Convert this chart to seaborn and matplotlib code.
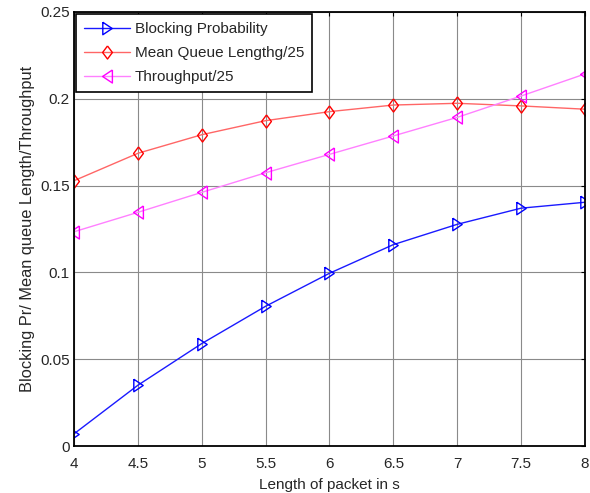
import matplotlib
matplotlib.use("Agg")
import matplotlib.pyplot as plt
import pandas as pd
import seaborn as sns

# packet length (s)
packet_len = [4, 4.5, 5, 5.5, 6, 6.5, 7, 7.5, 8]
# values
blocking = [0.007, 0.035, 0.059, 0.0805, 0.0995, 0.116, 0.1277, 0.137, 0.1404]
mean_queue = [0.1528, 0.1686, 0.1793, 0.1874, 0.1926, 0.1964, 0.1974, 0.1959, 0.194]
throughput = [0.1234, 0.1346, 0.1461, 0.1574, 0.168, 0.1786, 0.1893, 0.2016, 0.2143]

labels = ["Blocking Probability", "Mean Queue Lengthg/25", "Throughput/25"]

sns.set_style("white")
plt.rcParams['font.family'] = ['Liberation Sans', 'DejaVu Sans']
plt.rcParams['font.size'] = 11

df = pd.DataFrame({"x": packet_len, "b": blocking, "q": mean_queue, "t": throughput})

# matlab-ish markers: narrower than the mpl defaults
tri_right = [(-0.75, 1), (0.75, 0), (-0.75, -1), (-0.75, 1)]
tri_left = [(0.75, 1), (-0.75, 0), (0.75, -1), (0.75, 1)]
diamond = [(0, 1), (0.75, 0), (0, -1), (-0.75, 0), (0, 1)]

fig = plt.figure(figsize=(5.9, 4.93), dpi=100)
ax = fig.add_axes([0.1254, 0.0953, 0.8661, 0.8804])

# blue: blocking
sns.lineplot(data=df, x="x", y="b", ax=ax, color="#1a1aff", lw=1, marker=tri_right,
             ms=9, mfc="none", mec="blue", mew=1, label=labels[0])
# red: mean queue / 25
sns.lineplot(data=df, x="x", y="q", ax=ax, color="#ff6666", lw=1, marker=diamond,
             ms=9.4, mfc="none", mec="red", mew=1, label=labels[1])
# magenta: throughput / 25
sns.lineplot(data=df, x="x", y="t", ax=ax, color="#ff80ff", lw=1, marker=tri_left,
             ms=9.4, mfc="none", mec="magenta", mew=1, label=labels[2])

ax.set_xlim(4, 8)
ax.set_ylim(0, 0.25)
ax.set_xticks(packet_len)
ax.set_xticklabels(["4", "4.5", "5", "5.5", "6", "6.5", "7", "7.5", "8"])
ax.set_yticks([0, 0.05, 0.1, 0.15, 0.2, 0.25])
ax.set_yticklabels(["0", "0.05", "0.1", "0.15", "0.2", "0.25"])
ax.grid(True, color="#8a8a8a", lw=0.8)
ax.tick_params(direction="in", top=True, right=True, length=3, labelsize=11, color="black")
ax.tick_params(axis="x", pad=8)
ax.tick_params(axis="y", pad=3)
for s in ax.spines.values():
    s.set_color("black")
    s.set_linewidth(1.3)

ax.set_xlabel("Length of packet in s", fontsize=11, labelpad=5)
ax.set_ylabel("Blocking Pr/ Mean queue Length/Throughput", fontsize=11.8, labelpad=4)

leg = ax.legend(loc="upper left", fancybox=False, edgecolor="black", framealpha=1,
                fontsize=11, borderaxespad=0.15, handlelength=3.0, handletextpad=0.35,
                labelspacing=0.66, borderpad=0.5)
leg.get_frame().set_linewidth(1.2)

fig.savefig("out.png", dpi=100)
